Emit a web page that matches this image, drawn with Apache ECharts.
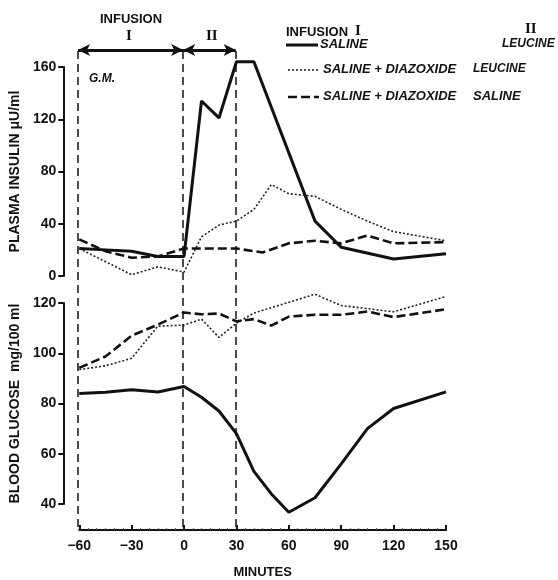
<!DOCTYPE html>
<html>
<head>
<meta charset="utf-8">
<script src="https://cdn.jsdelivr.net/npm/echarts@6/dist/echarts.min.js"></script>
<style>
  html,body{margin:0;padding:0;background:#fff;}
  #chart{width:558px;height:580px;}
</style>
</head>
<body>
<div id="chart"></div>
<script>
// plasma insulin (uU/ml)
var insSalineT  = [-60,-45,-30,-15,0,10,20,30,40,75,90,120,150];
var insSalineV  = [21,20,19,15,15,134,121,164,164,42,22,13,17];
var insDiazLeuT = [-60,-30,-15,0,10,20,30,40,50,60,75,90,105,120,150];
var insDiazLeuV = [21,1,7,3,30,39,42,51,70,63,61,51,42,34,27];
var insDiazSalT = [-60,-45,-30,-15,0,10,20,30,45,60,75,90,105,120,150];
var insDiazSalV = [28,19,14,15,21,21,21,21,18,25,27,25,31,25,26];

// blood glucose (mg/100 ml)
var gluSalineT  = [-60,-45,-30,-15,0,10,20,30,40,50,60,75,90,105,120,150];
var gluSalineV  = [84,84.5,85.5,84.6,86.8,82.5,77,68,53,44,36.7,42.5,56,70,78,84.6];
var gluDiazLeuT = [-60,-45,-30,-15,0,10,20,30,40,75,90,120,150];
var gluDiazLeuV = [93.5,95,98,110.8,111.2,113.6,106.3,112,116,123.5,119,116.5,122.6];
var gluDiazSalT = [-60,-45,-30,-15,0,10,20,30,40,50,60,75,90,105,120,150];
var gluDiazSalV = [94.2,98.7,107,111.4,116.2,115.5,115.8,112.7,113.6,111,114.6,115.3,115.3,116.6,114.4,117.5];

var xTicks = [-60,-30,0,30,60,90,120,150];
var infusionMarks = [-60,0,30];

function pairs(t,v){
    var out=[];
    for(var i=0;i<t.length;i++){ out.push([t[i],v[i]]); }
    return out;
}

var FONT='"Liberation Sans", Arial, sans-serif';
var solid={color:'#111',width:3,type:'solid'};
var dotted={color:'#222',width:1.6,type:[2,2]};
var dashed={color:'#111',width:2.6,type:[9,4]};

function mkSeries(name,xi,t,v,ls){
    return {
        name:name,type:'line',xAxisIndex:xi,yAxisIndex:xi,
        data:pairs(t,v),symbol:'none',clip:false,
        lineStyle:ls,animation:false
    };
}

function yAx(idx,min,max,step,name){
    return {gridIndex:idx,type:'value',min:min,max:max,interval:step,offset:16,
        axisLine:{show:true,onZero:false,lineStyle:{color:'#111',width:2}},
        axisTick:{show:true,length:5,lineStyle:{color:'#111',width:2}},
        splitLine:{show:false},
        axisLabel:{margin:7,fontSize:14,fontWeight:'bold',color:'#111',fontFamily:FONT},
        name:name,nameLocation:'middle',nameGap:41,
        nameTextStyle:{fontSize:14,fontWeight:'bold',color:'#111',fontFamily:FONT}
    };
}

var myChart = echarts.init(document.getElementById('chart'));
var xBase = {type:'value',min:-60,max:150,interval:30};
var option = {
    backgroundColor:'#fff',
    animation:false,
    textStyle:{fontFamily:FONT,color:'#111'},
    grid:[
        {left:78,width:368,top:67,height:209},
        {left:78,width:368,top:303,height:209},
        {left:78,width:368,top:50,height:477}
    ],
    xAxis:[
        Object.assign({gridIndex:0,show:false},xBase),
        Object.assign({gridIndex:1,offset:26,
            axisLine:{show:true,onZero:false,lineStyle:{color:'#111',width:2}},
            axisTick:{show:true,inside:true,length:5,lineStyle:{color:'#111',width:2}},
            minorTick:{show:true,splitNumber:6,length:2,lineStyle:{color:'#555'}},
            splitLine:{show:false},
            axisLabel:{margin:9,fontSize:14,fontWeight:'bold',color:'#111',fontFamily:FONT,
                formatter:function(v){return v<0?'\u2212'+(-v):''+v;}},
            name:'MINUTES',nameLocation:'middle',nameGap:36,
            nameTextStyle:{fontSize:13,fontWeight:'bold',color:'#111',fontFamily:FONT}
        },xBase),
        Object.assign({gridIndex:2,show:false},xBase)
    ],
    yAxis:[
        yAx(0,0,160,40,'PLASMA INSULIN \u03bcU/ml'),
        yAx(1,40,120,20,'BLOOD GLUCOSE  mg/100 ml'),
        {gridIndex:2,type:'value',min:0,max:1,show:false}
    ],
    series:[
        mkSeries('ins1',0,insSalineT,insSalineV,solid),
        mkSeries('ins2',0,insDiazLeuT,insDiazLeuV,dotted),
        mkSeries('ins3',0,insDiazSalT,insDiazSalV,dashed),
        mkSeries('glu1',1,gluSalineT,gluSalineV,solid),
        mkSeries('glu2',1,gluDiazLeuT,gluDiazLeuV,dotted),
        mkSeries('glu3',1,gluDiazSalT,gluDiazSalV,dashed),
        {
            name:'marks',type:'line',xAxisIndex:2,yAxisIndex:2,data:[],
            markLine:{
                silent:true,animation:false,
                label:{show:false},
                data:infusionMarks.map(function(m){
                    return [{coord:[m,0],symbol:'none',lineStyle:{color:'#111',width:1.5,type:[8,5]}},
                            {coord:[m,1],symbol:'none'}];
                }).concat([
                    [{coord:[infusionMarks[0],1],symbol:'arrow',symbolSize:[9,12],lineStyle:{color:'#111',width:3,type:'solid'}},
                     {coord:[infusionMarks[1],1],symbol:'arrow',symbolSize:[9,12]}],
                    [{coord:[infusionMarks[1],1],symbol:'arrow',symbolSize:[9,12],lineStyle:{color:'#111',width:3,type:'solid'}},
                     {coord:[infusionMarks[2],1],symbol:'arrow',symbolSize:[9,12]}]
                ])
            }
        }
    ],
    graphic:[
        {type:'text',left:100,top:13,style:{text:'INFUSION',font:'bold 13px '+FONT,fill:'#111'}},
        {type:'text',left:126,top:29,style:{text:'I',font:'bold 15px "Liberation Serif", serif',fill:'#111'}},
        {type:'text',left:206,top:29,style:{text:'II',font:'bold 15px "Liberation Serif", serif',fill:'#111'}},
        {type:'text',left:89,top:73,style:{text:'G.M.',font:'italic bold 12px '+FONT,fill:'#111'}},
        // legend
        {type:'text',left:286,top:26,style:{text:'INFUSION',font:'bold 13px '+FONT,fill:'#111'}},
        {type:'text',left:355,top:24,style:{text:'I',font:'bold 15px "Liberation Serif", serif',fill:'#111'}},
        {type:'text',left:525,top:22,style:{text:'II',font:'bold 15px "Liberation Serif", serif',fill:'#111'}},
        {type:'line',shape:{x1:286,y1:45,x2:318,y2:45},style:{stroke:'#111',lineWidth:3}},
        {type:'line',shape:{x1:288,y1:70,x2:319,y2:70},style:{stroke:'#222',lineWidth:1.6,lineDash:[2,2]}},
        {type:'line',shape:{x1:288,y1:97,x2:319,y2:97},style:{stroke:'#111',lineWidth:2.6,lineDash:[9,4]}},
        {type:'text',left:320,top:38,style:{text:'SALINE',font:'italic bold 13px '+FONT,fill:'#111'}},
        {type:'text',left:323,top:63,style:{text:'SALINE + DIAZOXIDE',font:'italic bold 13px '+FONT,fill:'#111'}},
        {type:'text',left:323,top:90,style:{text:'SALINE + DIAZOXIDE',font:'italic bold 13px '+FONT,fill:'#111'}},
        {type:'text',left:502,top:38,style:{text:'LEUCINE',font:'italic bold 12px '+FONT,fill:'#111'}},
        {type:'text',left:473,top:63,style:{text:'LEUCINE',font:'italic bold 12px '+FONT,fill:'#111'}},
        {type:'text',left:473,top:90,style:{text:'SALINE',font:'italic bold 13px '+FONT,fill:'#111'}}
    ]
};
myChart.setOption(option);
</script>
</body>
</html>
